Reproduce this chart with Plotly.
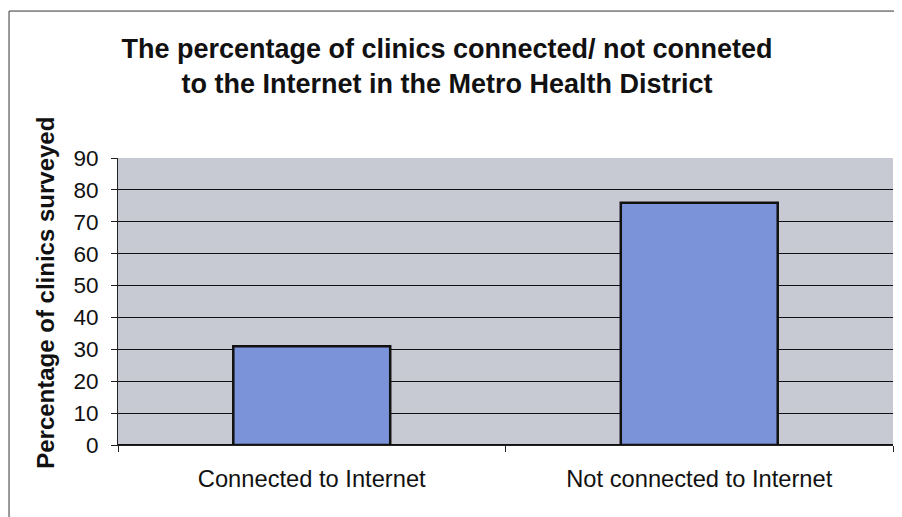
import plotly.graph_objects as go

categories = ["Connected to Internet", "Not connected to Internet"]
values = [31, 76]
y_ticks = [0, 10, 20, 30, 40, 50, 60, 70, 80, 90]

title_text = ("<b>The percentage of clinics connected/ not conneted<br>"
              "to the Internet in the Metro Health District</b>")
y_title = "<b>Percentage of clinics surveyed</b>"

# page has an 8px body margin; figure coords are offset accordingly
fig = go.Figure(go.Bar(
    x=categories, y=values,
    marker=dict(color="#7b93d8", line=dict(color="#111111", width=2.5)),
))

fig.update_layout(
    width=894, height=509,
    margin=dict(l=110, r=9, t=150, b=72),
    paper_bgcolor="white",
    plot_bgcolor="#c8cad3",
    bargap=0.595,
    showlegend=False,
    font=dict(family="Liberation Sans, Arial, sans-serif", color="#111111"),
    title=dict(text=title_text, x=0.491, xanchor="center", y=0.902, yanchor="middle",
               font=dict(size=27, color="#111111")),
    shapes=[
        dict(type="line", xref="paper", yref="paper", x0=-0.1406, x1=1.02, y0=1.512, y1=1.512,
             line=dict(color="#333333", width=1)),
        dict(type="line", xref="paper", yref="paper", x0=-0.1406, x1=-0.1406, y0=-0.26, y1=1.512,
             line=dict(color="#333333", width=1)),
    ],
    annotations=[
        dict(text=y_title, xref="paper", yref="paper", x=-0.093, y=0.53,
             xanchor="center", yanchor="middle", textangle=-90, showarrow=False,
             font=dict(size=24, color="#111111")),
    ],
)

fig.update_xaxes(
    type="category",
    tickson="boundaries",
    ticks="outside", ticklen=6, tickcolor="#222222",
    showline=True, linecolor="#222222", linewidth=1,
    showgrid=False,
    ticklabelstandoff=13,
    tickfont=dict(size=23.7, color="#111111"),
)
fig.update_yaxes(
    range=[0, 90],
    tickvals=y_ticks,
    ticks="outside", ticklen=6, tickcolor="#222222",
    showline=True, linecolor="#222222", linewidth=1,
    showgrid=True, gridcolor="#111111", gridwidth=1,
    zeroline=True, zerolinecolor="#111111",
    ticklabelstandoff=8,
    tickfont=dict(size=22.5, color="#111111"),
)

fig.write_html("out.html")
